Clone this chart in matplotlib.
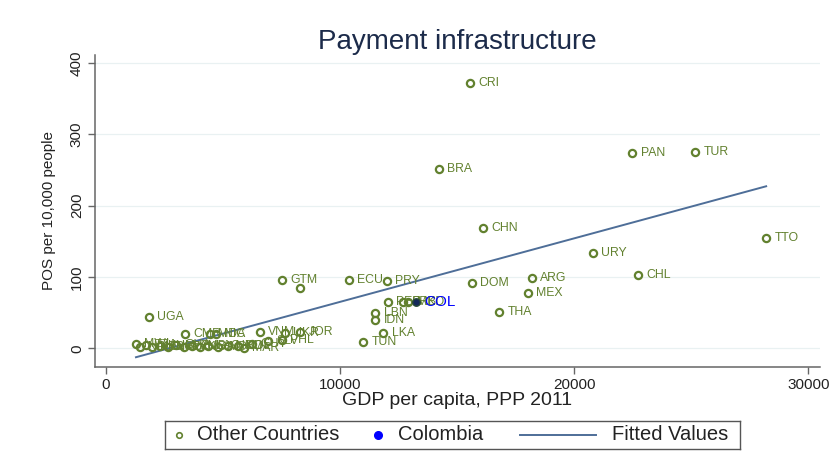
import numpy as np
import matplotlib
matplotlib.use("Agg")
import matplotlib.pyplot as plt

plt.rcParams['font.family'] = ['Liberation Sans', 'DejaVu Sans']

# GDP per capita (PPP 2011) and POS terminals per 10,000 people
countries = ["CRI", "PAN", "TUR", "BRA", "CHN", "TTO", "URY", "DOM", "ARG", "CHL",
             "MEX", "THA", "LBN", "IDN", "LKA", "TUN", "ECU", "PRY", "GTM", "",
             "UGA", "PER", "SRB", "MKD",
             "CMR", "MDA", "NIC", "VNM", "UKR", "JOR", "SLV", "PHL",
             "MWI", "NPL", "TZA", "KEN", "KHM", "BGD", "GHA", "PAK", "ZMB",
             "NGA", "LAO", "IND", "HND", "BOL", "MAR", "GUY"]
gdp = [15550, 22480, 25170, 14230, 16110, 28200, 20810, 15640, 18200, 22740,
       18030, 16800, 11500, 11500, 11840, 10980, 10380, 12010, 7520, 8290,
       1840, 12050, 12690, 12910,
       3380, 4440, 4700, 6580, 7650, 8290, 6920, 7520,
       1280, 1450, 1710, 1970, 2310, 2650, 2990, 3330, 3680,
       4020, 4360, 4790, 5210, 5640, 5900, 6240]
pos = [372, 274, 275, 252, 168, 155, 133, 92, 99, 103,
       78, 51, 50, 40, 22, 9, 96, 95, 96, 85,
       44, 65, 65, 65,
       20, 20, 20, 23, 22, 23, 10, 12,
       6, 2, 5, 2, 4, 2, 5, 2, 4,
       2, 4, 2, 4, 3, 0, 6]

col_name = "COL"
col_gdp = 13250
col_pos = 65

# Linear fit: POS = intercept + slope * GDP
fit_intercept = -23.7
fit_slope = 0.008895

legend_labels = ["Other Countries", "Colombia", "Fitted Values"]

green = "#62812f"
blue = "#0000ff"
line_col = "#4e6e98"

W, H = 830, 468
fig = plt.figure(figsize=(W / 100, H / 100), dpi=100)
ax = fig.add_axes([95 / W, 1 - 367 / H, 725 / W, 312 / H])

ax.set_xlim(-470, 30500)
ax.set_ylim(-26, 411)

for yv in [0, 100, 200, 300, 400]:
    ax.axhline(yv, color="#e9f1f2", lw=0.9, zorder=0)

ax.plot(gdp, pos, linestyle="none", marker="o", markersize=5.2,
        markerfacecolor="none", markeredgecolor=green, markeredgewidth=1.6, zorder=3)
for name, x, y in zip(countries, gdp, pos):
    if name:
        ax.annotate(name, (x, y), xytext=(6, 0), textcoords="offset points",
                    va="center", ha="left", fontsize=8.8, color=green, zorder=4)

ax.plot([col_gdp], [col_pos], linestyle="none", marker="o", markersize=5.4,
        markerfacecolor="#14285a", markeredgecolor="#2a4a3a", markeredgewidth=1.0,
        zorder=5)
ax.annotate(col_name, (col_gdp, col_pos), xytext=(6, 0), textcoords="offset points",
            va="center", ha="left", fontsize=11, color=blue, zorder=6)

xf = np.array([min(gdp), max(gdp)])
ax.plot(xf, fit_intercept + fit_slope * xf, color=line_col, lw=1.4, zorder=2)

for s in ["top", "right"]:
    ax.spines[s].set_visible(False)
for s in ["left", "bottom"]:
    ax.spines[s].set_color("#666666")
    ax.spines[s].set_linewidth(1.1)

ax.set_xticks([0, 10000, 20000, 30000])
ax.set_yticks([0, 100, 200, 300, 400])
ax.tick_params(axis="both", direction="out", length=5, width=1, color="#666666",
               labelsize=11, labelcolor="#222222", pad=3)
for lbl in ax.get_yticklabels():
    lbl.set_rotation(90)
    lbl.set_va("center")

ax.set_xlabel("GDP per capita, PPP 2011", fontsize=14, color="#222222", labelpad=0)
ax.set_ylabel("POS per 10,000 people", fontsize=11, color="#222222", labelpad=10)
ax.set_title("Payment infrastructure", fontsize=20, color="#1c2b4a", pad=4)

# Legend box laid out in pixel units
lx0, ly_top, lw, lh = 165, 421, 575, 28
lax = fig.add_axes([lx0 / W, 1 - (ly_top + lh) / H, lw / W, lh / H])
lax.set_xlim(0, lw)
lax.set_ylim(0, lh)
lax.set_xticks([])
lax.set_yticks([])
for s in lax.spines.values():
    s.set_color("#555555")
    s.set_linewidth(1.0)
yc = lh / 2
lax.plot([14], [yc], linestyle="none", marker="o", markersize=4,
         markerfacecolor="none", markeredgecolor=green, markeredgewidth=1.2)
lax.plot([213], [yc], linestyle="none", marker="o", markersize=5.5, color=blue)
lax.plot([355, 431], [yc, yc], color=line_col, lw=1.4)
for xt, txt in zip([32, 233, 447], legend_labels):
    lax.text(xt, yc, txt, va="center", ha="left", fontsize=14.5, color="#222222")

fig.savefig("out.png", dpi=100, facecolor="white")
